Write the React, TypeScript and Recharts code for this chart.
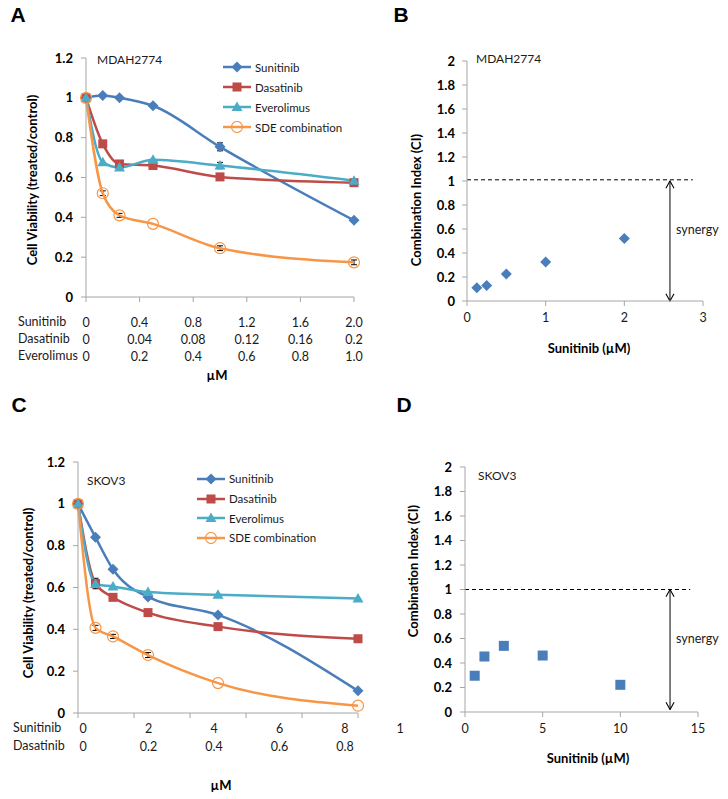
import { ErrorBar, Line, LineChart, ReferenceLine, Scatter, ScatterChart, XAxis, YAxis } from 'recharts';
import type { ReactNode } from 'react';

const FONT = 'Lato, "Open Sans", sans-serif';
const BLUE = '#4a7ebb';
const RED = '#be4b48';
const TEAL = '#4bacc6';
const ORANGE = '#f79646';
const AXIS = '#a6a6a6';
const INK = '#1a1a1a';

const seriesNames = ['Sunitinib', 'Dasatinib', 'Everolimus', 'SDE combination'];
const seriesColors = [BLUE, RED, TEAL, ORANGE];
const seriesShapes = ['diamond', 'square', 'triangle', 'circle'];

// A: MDAH2774 viability, x = sunitinib dose (µM)
const aDose = [0, 0.125, 0.25, 0.5, 1, 2];
const aSunitinib = [1.0, 1.012, 1.0, 0.96, 0.754, 0.385];
const aDasatinib = [1.0, 0.769, 0.668, 0.66, 0.603, 0.574];
const aEverolimus = [1.0, 0.677, 0.65, 0.689, 0.66, 0.584];
const aSde = [1.0, 0.521, 0.41, 0.367, 0.245, 0.174];
const aSunitinibErr = [0, 0, 0, 0, 0.02, 0];
const aEverolimusErr = [0, 0, 0, 0, 0.016, 0];
const aSdeErr = [0, 0.012, 0.01, 0, 0.012, 0.012];
const aXTicks = [0, 0.4, 0.8, 1.2, 1.6, 2.0];
const aSunitinibLabels = ['0', '0.4', '0.8', '1.2', '1.6', '2.0'];
const aDasatinibLabels = ['0', '0.04', '0.08', '0.12', '0.16', '0.2'];
const aEverolimusLabels = ['0', '0.2', '0.4', '0.6', '0.8', '1.0'];
const aYTicks = [0, 0.2, 0.4, 0.6, 0.8, 1, 1.2];

// B: MDAH2774 combination index
const bDose = [0.125, 0.25, 0.5, 1, 2];
const bCi = [0.11, 0.13, 0.225, 0.325, 0.52];

// C: SKOV3 viability
const cDose = [0, 0.5, 1, 2, 4, 8];
const cSunitinib = [1.0, 0.84, 0.687, 0.555, 0.469, 0.106];
const cDasatinib = [1.0, 0.619, 0.553, 0.48, 0.413, 0.355];
const cEverolimus = [1.0, 0.617, 0.605, 0.578, 0.565, 0.548];
const cSde = [1.0, 0.407, 0.366, 0.277, 0.143, 0.035];
const cDasatinibErr = [0, 0.025, 0, 0, 0, 0];
const cSdeErr = [0, 0.012, 0.01, 0.012, 0, 0];
const cXTicks = [0, 1.6, 3.2, 4.8, 6.4, 8];
const cLabelTicks = [0, 2, 4, 6, 8];
const cSunitinibLabels = ['0', '2', '4', '6', '8'];
const cDasatinibLabels = ['0', '0.2', '0.4', '0.6', '0.8'];

// D: SKOV3 combination index
const dDose = [0.625, 1.25, 2.5, 5, 10];
const dCi = [0.296, 0.453, 0.54, 0.461, 0.222];

const ciTicks = [0, 0.2, 0.4, 0.6, 0.8, 1, 1.2, 1.4, 1.6, 1.8, 2];

const aRows = aDose.map((x, i) => ({
  x,
  sun: aSunitinib[i],
  das: aDasatinib[i],
  evo: aEverolimus[i],
  sde: aSde[i],
  sunErr: aSunitinibErr[i],
  evoErr: aEverolimusErr[i],
  sdeErr: aSdeErr[i],
}));
const cRows = cDose.map((x, i) => ({
  x,
  sun: cSunitinib[i],
  das: cDasatinib[i],
  evo: cEverolimus[i],
  sde: cSde[i],
  dasErr: cDasatinibErr[i],
  sdeErr: cSdeErr[i],
}));
const bRows = bDose.map((x, i) => ({ x, ci: bCi[i] }));
const dRows = dDose.map((x, i) => ({ x, ci: dCi[i] }));

function drawMarker(kind: string, color: string, cx: number, cy: number, key?: string) {
  if (cx == null || cy == null) return <g key={key} />;
  switch (kind) {
    case 'diamond':
      return <polygon key={key} points={`${cx},${cy - 5.5} ${cx + 5.5},${cy} ${cx},${cy + 5.5} ${cx - 5.5},${cy}`} fill={color} />;
    case 'square':
      return <rect key={key} x={cx - 4.5} y={cy - 4.5} width={9} height={9} fill={color} />;
    case 'triangle':
      return <polygon key={key} points={`${cx},${cy - 5.5} ${cx + 5.5},${cy + 4} ${cx - 5.5},${cy + 4}`} fill={color} />;
    default:
      return <circle key={key} cx={cx} cy={cy} r={5.5} fill="none" stroke={color} strokeWidth={1.2} />;
  }
}

const dotFor = (i: number) => (p: any) => drawMarker(seriesShapes[i], seriesColors[i], p.cx, p.cy, `m${i}-${p.index}`);

function Txt(props: {
  x: number;
  y: number;
  children: ReactNode;
  size?: number;
  bold?: boolean;
  anchor?: 'start' | 'middle';
  rotate?: boolean;
  family?: string;
}) {
  const tx = props.anchor === 'middle' || props.rotate ? '-50%' : '0';
  return (
    <div
      style={{
        position: 'absolute',
        left: props.x,
        top: props.y,
        transform: `translate(${tx}, -50%)${props.rotate ? ' rotate(-90deg)' : ''}`,
        fontSize: props.size ?? 12.5,
        fontWeight: props.bold ? 700 : 400,
        fontFamily: props.family ?? FONT,
        color: props.bold ? '#000' : INK,
        whiteSpace: 'nowrap',
        lineHeight: 1,
      }}
    >
      {props.children}
    </div>
  );
}

function LegendBlock(props: { left: number; top: number; gap: number }) {
  return (
    <div style={{ position: 'absolute', left: props.left, top: props.top, fontFamily: FONT, fontSize: 11.5, color: INK }}>
      {seriesNames.map((n, i) => (
        <div key={n} style={{ display: 'flex', alignItems: 'center', height: props.gap }}>
          <svg width={30} height={12} style={{ marginRight: 2 }}>
            <line x1={0} y1={6} x2={28} y2={6} stroke={seriesColors[i]} strokeWidth={2.5} />
            {drawMarker(seriesShapes[i], seriesColors[i], 14, 6)}
          </svg>
          <span>{n}</span>
        </div>
      ))}
    </div>
  );
}

const yTick = { fontSize: 13, fontWeight: 700, fill: '#000', fontFamily: FONT };
const xTick = { fontSize: 12.5, fill: INK, fontFamily: FONT };

function ATick(props: any) {
  const { x, y, index } = props;
  const rows = [aSunitinibLabels, aDasatinibLabels, aEverolimusLabels];
  return (
    <g>
      {rows.map((r, k) => (
        <text key={k} x={x} y={y + 20 + k * 17} textAnchor="middle" dominantBaseline="central" style={xTick} fill={INK}>
          {r[index]}
        </text>
      ))}
    </g>
  );
}

function CTick(props: any) {
  const { x, y, index } = props;
  const rows = [cSunitinibLabels, cDasatinibLabels];
  return (
    <g>
      {rows.map((r, k) => (
        <text key={k} x={x} y={y + 10 + k * 18} textAnchor="middle" dominantBaseline="central" style={xTick} fill={INK}>
          {r[index]}
        </text>
      ))}
    </g>
  );
}

const noTick = () => <g />;

function ViabilityLines(props: { errs: Record<string, string | undefined> }) {
  const keys = ['sun', 'das', 'evo', 'sde'];
  return keys.map((k, i) => (
    <Line
      key={k}
      type="monotone"
      dataKey={k}
      stroke={seriesColors[i]}
      strokeWidth={2.5}
      dot={dotFor(i)}
      activeDot={false}
      isAnimationActive={false}
    >
      {props.errs[k] ? <ErrorBar dataKey={props.errs[k] as string} width={3} stroke="#000" strokeWidth={1} /> : null}
    </Line>
  ));
}

function ArrowDefs(props: { id: string }) {
  return (
    <defs>
      <marker
        id={props.id}
        viewBox="0 0 10 10"
        refX={9}
        refY={5}
        markerWidth={9}
        markerHeight={10}
        markerUnits="userSpaceOnUse"
        orient="auto-start-reverse"
      >
        <path d="M1,0.5 L9,5 L1,9.5" fill="none" stroke="#000" strokeWidth={1.2} />
      </marker>
    </defs>
  );
}

function PanelA() {
  return (
    <div style={{ position: 'absolute', left: 0, top: 0 }}>
      <LineChart width={370} height={400} data={aRows} margin={{ top: 58, right: 16, bottom: 33, left: 40 }}>
        <XAxis
          type="number"
          dataKey="x"
          domain={[0, 2]}
          ticks={aXTicks}
          stroke={AXIS}
          tickSize={5}
          tickMargin={0}
          height={70}
          tick={<ATick />}
        />
        <YAxis
          type="number"
          domain={[0, 1.2]}
          ticks={aYTicks}
          stroke={AXIS}
          tickSize={5}
          tickMargin={8}
          width={46}
          tick={yTick}
        />
        {ViabilityLines({ errs: { sun: 'sunErr', evo: 'evoErr', sde: 'sdeErr' } })}
      </LineChart>
    </div>
  );
}

function PanelB() {
  return (
    <div style={{ position: 'absolute', left: 370, top: 0 }}>
      <ScatterChart width={358} height={400} margin={{ top: 61, right: 25, bottom: 69, left: 40 }}>
        <ArrowDefs id="arrowB" />
        <XAxis type="number" dataKey="x" domain={[0, 3]} ticks={[0, 1, 2, 3]} stroke={AXIS} tickSize={5} tickMargin={7} height={30} tick={xTick} />
        <YAxis type="number" dataKey="ci" domain={[0, 2]} ticks={ciTicks} stroke={AXIS} tickSize={5} tickMargin={7} width={57} tick={yTick} />
        <ReferenceLine
          segment={[{ x: 0, y: 1.01 }, { x: 2.87, y: 1.01 }]}
          stroke="#000"
          strokeDasharray="4 3"
          strokeWidth={1}
        />
        <ReferenceLine
          segment={[{ x: 2.58, y: 1 }, { x: 2.58, y: 0 }]}
          stroke="#000"
          strokeWidth={1}
          markerStart="url(#arrowB)"
          markerEnd="url(#arrowB)"
        />
        <Scatter data={bRows} isAnimationActive={false} shape={(p: any) => drawMarker('diamond', BLUE, p.cx, p.cy)} />
      </ScatterChart>
    </div>
  );
}

function PanelC() {
  return (
    <div style={{ position: 'absolute', left: 0, top: 400 }}>
      <LineChart width={370} height={399} data={cRows} margin={{ top: 62, right: 12, bottom: 36, left: 30 }}>
        <XAxis
          type="number"
          dataKey="x"
          domain={[0, 8]}
          ticks={cXTicks}
          stroke={AXIS}
          tickSize={5}
          tickMargin={0}
          height={5}
          tick={noTick}
        />
        <XAxis
          xAxisId="lbl"
          type="number"
          dataKey="x"
          domain={[-0.153, 8.397]}
          allowDataOverflow
          ticks={cLabelTicks}
          axisLine={false}
          tickLine={false}
          tickSize={0}
          tickMargin={0}
          height={45}
          tick={<CTick />}
        />
        <YAxis
          type="number"
          domain={[0, 1.2]}
          ticks={aYTicks}
          stroke={AXIS}
          tickSize={5}
          tickMargin={8}
          width={48}
          tick={yTick}
        />
        {ViabilityLines({ errs: { das: 'dasErr', sde: 'sdeErr' } })}
      </LineChart>
    </div>
  );
}

function PanelD() {
  return (
    <div style={{ position: 'absolute', left: 370, top: 400 }}>
      <ScatterChart width={358} height={399} margin={{ top: 67, right: 30, bottom: 57, left: 40 }}>
        <ArrowDefs id="arrowD" />
        <XAxis type="number" dataKey="x" domain={[0, 15]} ticks={[0, 5, 10, 15]} stroke={AXIS} tickSize={5} tickMargin={7} height={30} tick={xTick} />
        <YAxis type="number" dataKey="ci" domain={[0, 2]} ticks={ciTicks} stroke={AXIS} tickSize={5} tickMargin={8} width={55} tick={yTick} />
        <ReferenceLine
          segment={[{ x: 0, y: 1 }, { x: 14.5, y: 1 }]}
          stroke="#000"
          strokeDasharray="4 3"
          strokeWidth={1}
        />
        <ReferenceLine
          segment={[{ x: 13.2, y: 1 }, { x: 13.2, y: 0.02 }]}
          stroke="#000"
          strokeWidth={1}
          markerStart="url(#arrowD)"
          markerEnd="url(#arrowD)"
        />
        <Scatter data={dRows} isAnimationActive={false} shape={(p: any) => <rect x={p.cx - 5} y={p.cy - 5} width={10} height={10} fill={BLUE} />} />
      </ScatterChart>
    </div>
  );
}

const LETTER = '"Liberation Sans", Arial, sans-serif';

export default function App() {
  return (
    <div style={{ position: 'absolute', left: 0, top: 0, width: 728, height: 799, background: '#fff', fontFamily: FONT, overflow: 'hidden' }}>
      <PanelA />
      <PanelB />
      <PanelC />
      <PanelD />

      <Txt x={18} y={14} size={21} bold anchor="middle" family={LETTER}>A</Txt>
      <Txt x={401} y={14} size={21} bold anchor="middle" family={LETTER}>B</Txt>
      <Txt x={19} y={404} size={21} bold anchor="middle" family={LETTER}>C</Txt>
      <Txt x={404} y={404} size={21} bold anchor="middle" family={LETTER}>D</Txt>

      {/* A */}
      <Txt x={97} y={60} size={12}>MDAH2774</Txt>
      <Txt x={32} y={180} size={13} bold rotate>Cell Viability (treated/control)</Txt>
      <Txt x={18} y={322}>Sunitinib</Txt>
      <Txt x={18} y={339}>Dasatinib</Txt>
      <Txt x={18} y={356}>Everolimus</Txt>
      <Txt x={217} y={375} size={13} bold anchor="middle">µM</Txt>
      <LegendBlock left={223} top={57} gap={20} />

      {/* B */}
      <Txt x={476} y={59} size={12}>MDAH2774</Txt>
      <Txt x={416} y={200} size={13} bold rotate>Combination Index (CI)</Txt>
      <Txt x={589} y={348} size={13} bold anchor="middle">Sunitinib (µM)</Txt>
      <Txt x={676} y={230} size={12.5}>synergy</Txt>

      {/* C */}
      <Txt x={87} y={481} size={12}>SKOV3</Txt>
      <Txt x={28} y={593} size={13} bold rotate>Cell Viability (treated/control)</Txt>
      <Txt x={13} y={728}>Sunitinib</Txt>
      <Txt x={13} y={746}>Dasatinib</Txt>
      <Txt x={221} y={785} size={13} bold anchor="middle">µM</Txt>
      <LegendBlock left={197} top={469} gap={19.7} />

      {/* D */}
      <Txt x={478} y={476} size={12}>SKOV3</Txt>
      <Txt x={413} y={571} size={13} bold rotate>Combination Index (CI)</Txt>
      <Txt x={588} y={758} size={13} bold anchor="middle">Sunitinib (µM)</Txt>
      <Txt x={676} y={639} size={12.5}>synergy</Txt>
      <Txt x={400} y={729} anchor="middle">1</Txt>
    </div>
  );
}
